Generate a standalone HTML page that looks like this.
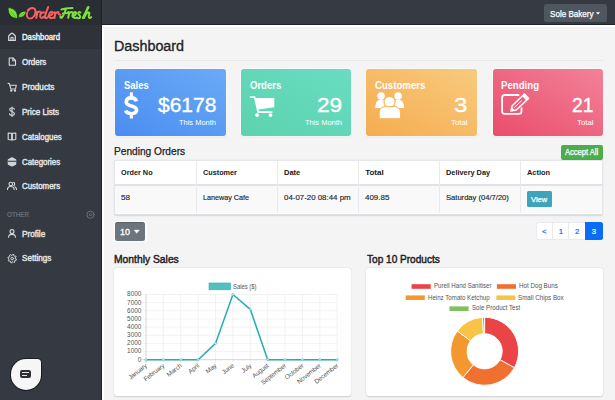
<!DOCTYPE html>
<html><head><meta charset="utf-8">
<style>
*{margin:0;padding:0;box-sizing:border-box}
html,body{width:615px;height:400px;overflow:hidden;background:#f4f4f4;font-family:"Liberation Sans",sans-serif}
.a{position:absolute}
.t{position:absolute;line-height:1;white-space:pre}
</style></head><body>
<!-- topbar -->
<div class="a" style="left:0;top:0;width:615px;height:24px;background:#363a43"></div>
<div class="a" style="left:0;top:23.8px;width:615px;height:1.2px;background:#1f242b"></div>
<div class="a" style="left:0;top:25px;width:615px;height:2px;background:#ffffff"></div>
<!-- sidebar -->
<div class="a" style="left:0;top:0;width:101px;height:400px;background:#353a42"></div>
<div class="a" style="left:0;top:0;width:101px;height:25px;background:#2a2e34"></div>
<div class="a" style="left:0;top:25px;width:101px;height:24px;background:#2f3339"></div>
<div class="a" style="left:101px;top:0;width:1.2px;height:400px;background:#1e2228"></div>
<div class="a" style="left:102.2px;top:25px;width:2px;height:375px;background:#ffffff"></div>
<!-- topbar button -->
<div class="a" style="left:543.8px;top:3.9px;width:63px;height:18.5px;background:#50565e;border-radius:2.5px"></div>
<svg class="a" style="left:594px;top:10px" width="8" height="6" viewBox="0 0 8 6"><path d="M1.8 2.2 L6.2 2.2 L4 4.4 Z" fill="#fff"/></svg>

<!-- logo -->
<svg class="a" style="left:0;top:0" width="101" height="25" viewBox="0 0 101 25" fill="none" stroke-linecap="round" stroke-linejoin="round">
  <g stroke="#1c1a22" stroke-width="2.6">
  <path d="M33 8.2 C29 7.5 26.8 11 26.8 14.5 C26.8 17.5 28.5 18.7 30.5 18.5 C33.5 18.2 35.5 14.5 35.5 11.5 C35.5 9 34 7.8 32 8 C30.5 8.2 29.5 9 29 9.8 M36 12 C37 11.5 37.5 12 37.2 13.2 L36.2 18 M37 14 C37.8 12 39 11.3 40 11.8 M44 12.5 C41.5 11.8 40 14 40.2 16.5 C40.4 18.5 42.5 18.3 44 16.5 M48.2 7 C47 10 45 15 45 17 C45 18.5 46.2 18.5 47.5 17.5 M48.5 16 C51 15.8 53 14 52.5 12.5 C52 11.5 50 11.8 49.2 14 C48.5 16.5 49.5 18.5 52 18 L53.5 17.5 M54 12.5 C55 12 55.5 12.5 55.2 13.5 L54.5 18 M55 14.5 C56 12.2 57.5 11.8 58.5 12.3 C58 14 59.5 15 60.5 14.5"/>
  <path d="M61.5 9.5 C64 8.5 68 8.2 72.5 8 M66 8.8 C65 12 63.5 16 62 17.5 C61 18.2 60 17.5 60.5 16.5 M63 13.5 L67.5 13 M68 12.2 C69 11.8 69.3 12.5 69 13.5 L68.2 17.8 M68.8 14.5 C69.8 12.3 71 11.8 72 12.3 M72.2 16 C74.5 15.8 76.5 14.2 76 12.7 C75.5 11.7 73.5 12 72.8 14 C72 16.5 73 18.3 75.5 18 L77 17.5 M80.5 12.5 C79.5 11.8 78 12.2 78.2 13.5 C78.5 15 80.5 15.5 80.2 17 C80 18.2 78.5 18.5 77.2 17.8 M82.8 18 C84.8 14 87.2 9.5 88.3 7.9 C88.9 7 88.2 6.6 87.6 7.6 C86.4 10 85 14.5 84.1 18 C85.4 14.6 87 12.4 88.4 12.4 C89.7 12.4 89.5 13.6 89 15 C88.6 16.3 88.6 17.8 89.5 18 C90.3 18.2 90.8 17.6 91.2 17.2"/>
  </g>
  <path stroke="#f06262" stroke-width="2.1" d="M33 8.2 C29 7.5 26.8 11 26.8 14.5 C26.8 17.5 28.5 18.7 30.5 18.5 C33.5 18.2 35.5 14.5 35.5 11.5 C35.5 9 34 7.8 32 8 C30.5 8.2 29.5 9 29 9.8 M36 12 C37 11.5 37.5 12 37.2 13.2 L36.2 18 M37 14 C37.8 12 39 11.3 40 11.8 M44 12.5 C41.5 11.8 40 14 40.2 16.5 C40.4 18.5 42.5 18.3 44 16.5 M48.2 7 C47 10 45 15 45 17 C45 18.5 46.2 18.5 47.5 17.5 M48.5 16 C51 15.8 53 14 52.5 12.5 C52 11.5 50 11.8 49.2 14 C48.5 16.5 49.5 18.5 52 18 L53.5 17.5 M54 12.5 C55 12 55.5 12.5 55.2 13.5 L54.5 18 M55 14.5 C56 12.2 57.5 11.8 58.5 12.3 C58 14 59.5 15 60.5 14.5"/>
  <path stroke="#7ee23a" stroke-width="2.1" d="M61.5 9.5 C64 8.5 68 8.2 72.5 8 M66 8.8 C65 12 63.5 16 62 17.5 C61 18.2 60 17.5 60.5 16.5 M63 13.5 L67.5 13 M68 12.2 C69 11.8 69.3 12.5 69 13.5 L68.2 17.8 M68.8 14.5 C69.8 12.3 71 11.8 72 12.3 M72.2 16 C74.5 15.8 76.5 14.2 76 12.7 C75.5 11.7 73.5 12 72.8 14 C72 16.5 73 18.3 75.5 18 L77 17.5 M80.5 12.5 C79.5 11.8 78 12.2 78.2 13.5 C78.5 15 80.5 15.5 80.2 17 C80 18.2 78.5 18.5 77.2 17.8 M82.8 18 C84.8 14 87.2 9.5 88.3 7.9 C88.9 7 88.2 6.6 87.6 7.6 C86.4 10 85 14.5 84.1 18 C85.4 14.6 87 12.4 88.4 12.4 C89.7 12.4 89.5 13.6 89 15 C88.6 16.3 88.6 17.8 89.5 18 C90.3 18.2 90.8 17.6 91.2 17.2"/>
  <path d="M8.2 7.6 C14.5 8.2 18 11.8 17.4 18.6 C11.5 18.5 7.6 14.5 8.2 7.6 Z" fill="#74e632" stroke="#1c1a22" stroke-width="0.6"/>
  <path d="M11 11.5 C13 13.5 14.5 15.5 15.8 18" stroke="#3f8a1f" stroke-width="0.6"/>
  <path d="M26.3 11.2 C22 10.8 18.6 12.8 18.2 17.6 C22.8 17.8 25.5 15.5 26.3 11.2 Z" fill="#74e632" stroke="#1c1a22" stroke-width="0.6"/>
  <path d="M24.5 12.8 C22.5 14 20.5 15.5 19.2 17" stroke="#3f8a1f" stroke-width="0.5"/>
</svg>

<!-- sidebar icons -->
<svg class="a" style="left:0;top:25px" width="101" height="250" viewBox="0 0 101 250" fill="none" stroke="#d8dadd" stroke-width="1.1" stroke-linecap="round" stroke-linejoin="round">
  <!-- home -->
  <path d="M8.7 15.4 L8.7 11.4 Q8.7 10.7 9.3 10.2 L11.3 8.5 Q12 7.9 12.7 8.5 L14.7 10.2 Q15.3 10.7 15.3 11.4 L15.3 15.4 Z" stroke-width="1.25"/><path d="M10.9 15.3 L10.9 13.2 Q10.9 12.4 12 12.4 Q13.1 12.4 13.1 13.2 L13.1 15.3"/>
  <!-- file -->
  <path d="M9.2 33 L13 33 L15.5 35.5 L15.5 40.3 L9.2 40.3 Z"/><path d="M12.8 33 L12.8 35.8 L15.5 35.8"/>
  <!-- cart -->
  <path d="M8 58.3 L9.4 58.6 L10.9 64 L15.5 64 L16.3 60.2 L10 60.2"/><circle cx="11.3" cy="65.6" r="0.65"/><circle cx="15" cy="65.6" r="0.65"/>
  <!-- dollar -->
  <path d="M12 82 L12 91.5"/><path d="M14.3 84.3 C14.3 83.3 13.2 83 12 83 C10.6 83 9.7 83.6 9.7 84.6 C9.7 87 14.4 86.2 14.4 88.7 C14.4 89.8 13.3 90.3 12 90.3 C10.6 90.3 9.6 89.8 9.6 88.8"/>
  <!-- book -->
  <path d="M8.2 108 L11.7 108.2 L11.7 115 L8.2 114.5 Z"/><path d="M15.8 108 L12.3 108.2 L12.3 115 L15.8 114.5 Z"/>
  <!-- categories box -->
  <path d="M8.3 134.7 L12 132.7 L15.7 134.7 L15.7 139.3 L12 141 L8.3 139.3 Z" fill="#cfd1d4"/><path d="M8.3 136.2 L15.7 136.2" stroke="#353a42"/>
  <!-- customers -->
  <circle cx="10.8" cy="159" r="1.8"/><path d="M7.5 164.5 C7.5 162.3 9 161.5 10.8 161.5 C12.6 161.5 14.1 162.3 14.1 164.5"/><path d="M13.5 157.3 C14.8 157.5 15.2 159.8 13.8 160.5"/><path d="M14.8 161.7 C15.8 162 16.5 163 16.5 164.5"/>
  <!-- plus circle (OTHER) -->
  <circle cx="90.5" cy="189.7" r="3.6" stroke="#6c757d" stroke-width="0.9"/><circle cx="90.5" cy="189.7" r="1.1" stroke="#6c757d" stroke-width="0.9"/>
  <!-- profile -->
  <circle cx="12" cy="206.6" r="2"/><path d="M8.6 212.2 C8.6 210 10.2 209.4 12 209.4 C13.8 209.4 15.4 210 15.4 212.2"/>
  <!-- settings -->
  <path d="M15.50 233.60 L16.47 234.11 L16.17 235.25 L15.08 235.21 L14.53 235.93 L14.86 236.98 L13.85 237.57 L13.10 236.78 L12.20 236.90 L11.69 237.87 L10.55 237.57 L10.59 236.48 L9.87 235.93 L8.82 236.26 L8.23 235.25 L9.02 234.50 L8.90 233.60 L7.93 233.09 L8.23 231.95 L9.32 231.99 L9.87 231.27 L9.54 230.22 L10.55 229.63 L11.30 230.42 L12.20 230.30 L12.71 229.33 L13.85 229.63 L13.81 230.72 L14.53 231.27 L15.58 230.94 L16.17 231.95 L15.38 232.70 Z" stroke-width="1"/><circle cx="12.2" cy="233.6" r="1.3" stroke-width="1"/>
</svg>

<!-- chat bubble -->
<div class="a" style="left:9.5px;top:357.6px;width:32.5px;height:33px;background:#1a1c20;border-radius:17px 5px 17px 17px"></div>
<div class="a" style="left:10.5px;top:358.6px;width:30.5px;height:31px;background:#f6f6f6;border-radius:16px 4px 16px 16px"></div>
<div class="a" style="left:20.2px;top:370.2px;width:11px;height:8px;background:#2e3034;border-radius:2px"></div>
<div class="a" style="left:22px;top:372.1px;width:7.4px;height:1.3px;background:#e8e8e8"></div>
<div class="a" style="left:22px;top:375.2px;width:5.2px;height:1px;background:#e8e8e8"></div>

<!-- header hr -->
<div class="a" style="left:114.5px;top:60px;width:488px;height:1px;background:#e9e9e9"></div>

<!-- cards -->
<div class="a" style="left:114.5px;top:68.8px;width:111px;height:67.3px;border-radius:3px;box-shadow:0 0 0 0.7px rgba(255,255,255,0.85),0 0.8px 1.6px rgba(0,0,0,0.12);background:linear-gradient(30deg,#4a8df0 0%,#6aaaf6 100%)"></div>
<div class="a" style="left:241px;top:68.8px;width:110.3px;height:67.3px;border-radius:3px;box-shadow:0 0 0 0.7px rgba(255,255,255,0.85),0 0.8px 1.6px rgba(0,0,0,0.12);background:linear-gradient(30deg,#5cd3ae 0%,#69dcc1 100%)"></div>
<div class="a" style="left:366.4px;top:68.8px;width:110.4px;height:67.3px;border-radius:3px;box-shadow:0 0 0 0.7px rgba(255,255,255,0.85),0 0.8px 1.6px rgba(0,0,0,0.12);background:linear-gradient(30deg,#f5ac4f 0%,#f8ca7e 100%)"></div>
<div class="a" style="left:492.5px;top:68.8px;width:110px;height:67.3px;border-radius:3px;box-shadow:0 0 0 0.7px rgba(255,255,255,0.85),0 0.8px 1.6px rgba(0,0,0,0.12);background:linear-gradient(30deg,#e94d6b 0%,#f28299 100%)"></div>

<!-- card icons -->
<svg class="a" style="left:0;top:0" width="615" height="140" viewBox="0 0 615 140" fill="#ffffff">
  <!-- dollar sign -->
  <rect x="129.8" y="92.3" width="3.1" height="6" rx="0.6"/>
  <rect x="129.8" y="112.6" width="3.1" height="6" rx="0.6"/>
  <path d="M136.4 101.4 C135.8 98.9 133.8 97.9 131.3 97.9 C128.3 97.9 126.3 99.4 126.3 101.9 C126.3 104.6 128.8 105.3 131.4 105.9 C134.2 106.6 136.6 107.5 136.6 110.1 C136.6 112.5 134.4 113.7 131.3 113.7 C128.5 113.7 126.3 112.6 125.7 110.6" fill="none" stroke="#fff" stroke-width="3.6" stroke-linecap="butt"/>
  <!-- cart -->
  <path d="M249.9 96.2 L255.2 96.2 L255.6 97.9 L274.3 97.9 L274.3 107.2 L258.5 109.6 L258.9 111.3 L272.4 111.3 L272.4 113 L257.5 113 L254 98 L249.9 98 Z"/>
  <circle cx="257.1" cy="115.1" r="1.9"/><circle cx="270.5" cy="115.1" r="1.9"/>
  <!-- users -->
  <path d="M375.3 108 C375.3 102.5 377 100.2 379.5 99.9 L383.5 99.9 L385 108 Z"/>
  <path d="M404 108 C404 102.5 402.3 100.2 399.8 99.9 L395.8 99.9 L394.3 108 Z"/>
  <circle cx="381.05" cy="96.1" r="3.8"/><circle cx="398.1" cy="96.1" r="3.8"/>
  <circle cx="389.55" cy="102" r="5.5" stroke="#f6b45a" stroke-width="1"/>
  <path d="M379.2 117.2 Q379.2 118.7 380.7 118.7 L399.1 118.7 Q400.6 118.7 400.6 117.2 L400.6 113.2 C400.6 109.2 398.2 106.6 394.6 106.6 L385.2 106.6 C381.6 106.6 379.2 109.2 379.2 113.2 Z" stroke="#f6b45a" stroke-width="1"/>
  <!-- edit (pen square) -->
  <path d="M519.3 95 L504.8 95 Q502.1 95 502.1 97.7 L502.1 111.2 Q502.1 113.9 504.8 113.9 L518.8 113.9 Q521.5 113.9 521.5 111.2 L521.5 107.6" fill="none" stroke="#fff" stroke-width="1.8"/>
  <path d="M511 111 L512.2 105.7 L524.43 94.03 L528.57 98.37 L516.3 110.07 Z" fill="none" stroke="#fff" stroke-width="1.5" stroke-linejoin="round"/>
  <path d="M522.4 96.2 L524.43 94.03 L528.57 98.37 L526.4 100.4 Z"/>
  <path d="M511 111 L512 107.5 L514.5 110 Z"/>
  <path d="M514.3 107.6 L521.6 100.6" stroke="#fff" stroke-width="1"/>
</svg>

<!-- Accept all -->
<div class="a" style="left:561px;top:144.6px;width:41.8px;height:15.4px;background:#4bad4e;border-radius:2px"></div>

<!-- table -->
<div class="a" style="left:114.3px;top:160.3px;width:488.5px;height:54.5px;background:#fff;border:1px solid #e4e6e9;border-bottom:1.6px solid #dcdfe3;border-radius:2px;box-shadow:0 0.5px 1.5px rgba(0,0,0,0.12)"></div>
<div class="a" style="left:115.3px;top:185.6px;width:486.5px;height:27.6px;background:#f9f9f9"></div>
<div class="a" style="left:115.3px;top:183.8px;width:486.5px;height:1.8px;background:#dfe3e8"></div>
<div class="a" style="left:196px;top:161.3px;width:0.9px;height:52px;background:#e8eaed"></div>
<div class="a" style="left:276.8px;top:161.3px;width:0.9px;height:52px;background:#e8eaed"></div>
<div class="a" style="left:358px;top:161.3px;width:0.9px;height:52px;background:#e8eaed"></div>
<div class="a" style="left:439.2px;top:161.3px;width:0.9px;height:52px;background:#e8eaed"></div>
<div class="a" style="left:520.3px;top:161.3px;width:0.9px;height:52px;background:#e8eaed"></div>
<!-- view btn -->
<div class="a" style="left:527px;top:191.4px;width:24.7px;height:15.6px;background:#3ca4bb;border-radius:1.5px"></div>

<!-- 10 dropdown -->
<div class="a" style="left:113.5px;top:220.7px;width:33px;height:21.6px;background:#fdfdfd;border-radius:3.5px"></div>
<div class="a" style="left:114.6px;top:221.9px;width:30.8px;height:19.2px;background:#6c757d;border-top:0.7px solid #596067;border-radius:2.5px"></div>
<svg class="a" style="left:133px;top:229px" width="8" height="6" viewBox="0 0 8 6"><path d="M1.1 1.1 L6.3 1.1 L3.7 4.3 Z" fill="#fff" stroke="#fff" stroke-width="0.4" stroke-linejoin="round"/></svg>

<!-- pagination -->
<div class="a" style="left:535.5px;top:222px;width:67.1px;height:17.6px;background:#fff;border:0.8px solid #e8ebee;border-radius:2.5px"></div>
<div class="a" style="left:552.3px;top:222.5px;width:0.8px;height:16.6px;background:#e8ebee"></div>
<div class="a" style="left:568px;top:222.5px;width:0.8px;height:16.6px;background:#e8ebee"></div>
<div class="a" style="left:585px;top:222px;width:17.6px;height:17.6px;background:#0b6cf6;border-radius:0 2.5px 2.5px 0"></div>

<!-- chart cards -->
<div class="a" style="left:113.8px;top:268px;width:237.2px;height:127.5px;background:#fff;border-radius:3px;box-shadow:0 0.6px 1.6px rgba(0,0,0,0.16)"></div>
<div class="a" style="left:366px;top:267.8px;width:237.2px;height:128px;background:#fff;border-radius:3px;box-shadow:0 0.6px 1.6px rgba(0,0,0,0.16)"></div>

<svg class="a" style="left:0;top:0" width="615" height="400" viewBox="0 0 615 400"><line x1="141.5" y1="351.55" x2="337.20" y2="351.55" stroke="#e9e9e9" stroke-width="0.6"/>
<line x1="141.5" y1="343.40" x2="337.20" y2="343.40" stroke="#e9e9e9" stroke-width="0.6"/>
<line x1="141.5" y1="335.25" x2="337.20" y2="335.25" stroke="#e9e9e9" stroke-width="0.6"/>
<line x1="141.5" y1="327.10" x2="337.20" y2="327.10" stroke="#e9e9e9" stroke-width="0.6"/>
<line x1="141.5" y1="318.95" x2="337.20" y2="318.95" stroke="#e9e9e9" stroke-width="0.6"/>
<line x1="141.5" y1="310.80" x2="337.20" y2="310.80" stroke="#e9e9e9" stroke-width="0.6"/>
<line x1="141.5" y1="302.65" x2="337.20" y2="302.65" stroke="#e9e9e9" stroke-width="0.6"/>
<line x1="141.5" y1="294.50" x2="337.20" y2="294.50" stroke="#e9e9e9" stroke-width="0.6"/>
<line x1="146.00" y1="294.50" x2="146.00" y2="363.20" stroke="#e9e9e9" stroke-width="0.6"/>
<line x1="163.38" y1="294.50" x2="163.38" y2="363.20" stroke="#e9e9e9" stroke-width="0.6"/>
<line x1="180.76" y1="294.50" x2="180.76" y2="363.20" stroke="#e9e9e9" stroke-width="0.6"/>
<line x1="198.15" y1="294.50" x2="198.15" y2="363.20" stroke="#e9e9e9" stroke-width="0.6"/>
<line x1="215.53" y1="294.50" x2="215.53" y2="363.20" stroke="#e9e9e9" stroke-width="0.6"/>
<line x1="232.91" y1="294.50" x2="232.91" y2="363.20" stroke="#e9e9e9" stroke-width="0.6"/>
<line x1="250.29" y1="294.50" x2="250.29" y2="363.20" stroke="#e9e9e9" stroke-width="0.6"/>
<line x1="267.67" y1="294.50" x2="267.67" y2="363.20" stroke="#e9e9e9" stroke-width="0.6"/>
<line x1="285.05" y1="294.50" x2="285.05" y2="363.20" stroke="#e9e9e9" stroke-width="0.6"/>
<line x1="302.44" y1="294.50" x2="302.44" y2="363.20" stroke="#e9e9e9" stroke-width="0.6"/>
<line x1="319.82" y1="294.50" x2="319.82" y2="363.20" stroke="#e9e9e9" stroke-width="0.6"/>
<line x1="337.20" y1="294.50" x2="337.20" y2="363.20" stroke="#e9e9e9" stroke-width="0.6"/>
<line x1="146.00" y1="294.50" x2="146.00" y2="363.20" stroke="#d0d0d0" stroke-width="0.7"/>
<line x1="141.5" y1="359.70" x2="337.20" y2="359.70" stroke="#cfcfcf" stroke-width="0.9"/>
<polyline fill="none" stroke="#25acac" stroke-width="1.5" stroke-linejoin="round" points="146.00,359.70 163.38,359.70 180.76,359.70 198.15,359.70 215.53,343.40 232.91,294.50 250.29,309.35 267.67,359.70 285.05,359.70 302.44,359.70 319.82,359.70 337.20,359.70"/>
<circle cx="146.00" cy="359.70" r="1.2" fill="#bfe6e6" stroke="#44bbbb" stroke-width="0.4"/>
<circle cx="163.38" cy="359.70" r="1.2" fill="#bfe6e6" stroke="#44bbbb" stroke-width="0.4"/>
<circle cx="180.76" cy="359.70" r="1.2" fill="#bfe6e6" stroke="#44bbbb" stroke-width="0.4"/>
<circle cx="198.15" cy="359.70" r="1.2" fill="#bfe6e6" stroke="#44bbbb" stroke-width="0.4"/>
<circle cx="215.53" cy="343.40" r="1.2" fill="#bfe6e6" stroke="#44bbbb" stroke-width="0.4"/>
<circle cx="232.91" cy="294.50" r="1.2" fill="#bfe6e6" stroke="#44bbbb" stroke-width="0.4"/>
<circle cx="250.29" cy="309.35" r="1.2" fill="#bfe6e6" stroke="#44bbbb" stroke-width="0.4"/>
<circle cx="267.67" cy="359.70" r="1.2" fill="#bfe6e6" stroke="#44bbbb" stroke-width="0.4"/>
<circle cx="285.05" cy="359.70" r="1.2" fill="#bfe6e6" stroke="#44bbbb" stroke-width="0.4"/>
<circle cx="302.44" cy="359.70" r="1.2" fill="#bfe6e6" stroke="#44bbbb" stroke-width="0.4"/>
<circle cx="319.82" cy="359.70" r="1.2" fill="#bfe6e6" stroke="#44bbbb" stroke-width="0.4"/>
<circle cx="337.20" cy="359.70" r="1.2" fill="#bfe6e6" stroke="#44bbbb" stroke-width="0.4"/>
<rect x="209" y="283" width="21.5" height="6.8" fill="#53bfbf" stroke="#2fb0b0" stroke-width="0.6"/>
<text x="147.50" y="366.50" font-family="Liberation Sans" font-size="6.4" fill="#555" text-anchor="end" letter-spacing="-0.15" transform="rotate(-38 147.50 366.50)">January</text>
<text x="164.88" y="366.50" font-family="Liberation Sans" font-size="6.4" fill="#555" text-anchor="end" letter-spacing="-0.15" transform="rotate(-38 164.88 366.50)">February</text>
<text x="182.26" y="366.50" font-family="Liberation Sans" font-size="6.4" fill="#555" text-anchor="end" letter-spacing="-0.15" transform="rotate(-38 182.26 366.50)">March</text>
<text x="199.65" y="366.50" font-family="Liberation Sans" font-size="6.4" fill="#555" text-anchor="end" letter-spacing="-0.15" transform="rotate(-38 199.65 366.50)">April</text>
<text x="217.03" y="366.50" font-family="Liberation Sans" font-size="6.4" fill="#555" text-anchor="end" letter-spacing="-0.15" transform="rotate(-38 217.03 366.50)">May</text>
<text x="234.41" y="366.50" font-family="Liberation Sans" font-size="6.4" fill="#555" text-anchor="end" letter-spacing="-0.15" transform="rotate(-38 234.41 366.50)">June</text>
<text x="251.79" y="366.50" font-family="Liberation Sans" font-size="6.4" fill="#555" text-anchor="end" letter-spacing="-0.15" transform="rotate(-38 251.79 366.50)">July</text>
<text x="269.17" y="366.50" font-family="Liberation Sans" font-size="6.4" fill="#555" text-anchor="end" letter-spacing="-0.15" transform="rotate(-38 269.17 366.50)">August</text>
<text x="286.55" y="366.50" font-family="Liberation Sans" font-size="6.4" fill="#555" text-anchor="end" letter-spacing="-0.15" transform="rotate(-38 286.55 366.50)">September</text>
<text x="303.94" y="366.50" font-family="Liberation Sans" font-size="6.4" fill="#555" text-anchor="end" letter-spacing="-0.15" transform="rotate(-38 303.94 366.50)">October</text>
<text x="321.32" y="366.50" font-family="Liberation Sans" font-size="6.4" fill="#555" text-anchor="end" letter-spacing="-0.15" transform="rotate(-38 321.32 366.50)">November</text>
<text x="338.70" y="366.50" font-family="Liberation Sans" font-size="6.4" fill="#555" text-anchor="end" letter-spacing="-0.15" transform="rotate(-38 338.70 366.50)">December</text>
<path d="M484.60 317.30 A34.0 34.0 0 0 1 514.39 367.68 L500.02 359.78 A17.6 17.6 0 0 0 484.60 333.70 Z" fill="#ea4447" stroke="#fff" stroke-width="0.9"/>
<path d="M514.39 367.68 A34.0 34.0 0 0 1 462.93 377.50 L473.38 364.86 A17.6 17.6 0 0 0 500.02 359.78 Z" fill="#f07030" stroke="#fff" stroke-width="0.9"/>
<path d="M462.93 377.50 A34.0 34.0 0 0 1 457.35 330.97 L470.49 340.78 A17.6 17.6 0 0 0 473.38 364.86 Z" fill="#f3982f" stroke="#fff" stroke-width="0.9"/>
<path d="M457.35 330.97 A34.0 34.0 0 0 1 482.47 317.37 L483.49 333.73 A17.6 17.6 0 0 0 470.49 340.78 Z" fill="#f8c346" stroke="#fff" stroke-width="0.9"/>
<path d="M482.47 317.37 A34.0 34.0 0 0 1 484.60 317.30 L484.60 333.70 A17.6 17.6 0 0 0 483.49 333.73 Z" fill="#7fc05f" stroke="#fff" stroke-width="0.9"/>
<rect x="411.6" y="284.2" width="19.1" height="4.6" fill="#ea4447"/>
<rect x="496.9" y="284.2" width="19.1" height="4.6" fill="#f07030"/>
<rect x="405.7" y="295.4" width="19.1" height="4.6" fill="#f3982f"/>
<rect x="496.3" y="295.4" width="19.1" height="4.6" fill="#f8c346"/>
<rect x="449.5" y="306.4" width="19.1" height="4.6" fill="#7fc05f"/></svg>
<div class="t" style="top:32.89px;font-size:8.4px;font-weight:400;color:#f2f2f2;-webkit-text-stroke:0.4px #f2f2f2;left:22.14px;transform:scaleX(0.9267);transform-origin:0 0;">Dashboard</div>
<div class="t" style="top:58.39px;font-size:8.4px;font-weight:400;color:#e4e6e8;-webkit-text-stroke:0.4px #e4e6e8;left:22.36px;transform:scaleX(0.9505);transform-origin:0 0;">Orders</div>
<div class="t" style="top:83.14px;font-size:8.4px;font-weight:400;color:#e4e6e8;-webkit-text-stroke:0.4px #e4e6e8;left:22.11px;transform:scaleX(0.9815);transform-origin:0 0;">Products</div>
<div class="t" style="top:108.09px;font-size:8.4px;font-weight:400;color:#e4e6e8;-webkit-text-stroke:0.4px #e4e6e8;left:22.12px;transform:scaleX(0.9605);transform-origin:0 0;">Price Lists</div>
<div class="t" style="top:132.99px;font-size:8.4px;font-weight:400;color:#e4e6e8;-webkit-text-stroke:0.4px #e4e6e8;left:22.37px;transform:scaleX(0.9381);transform-origin:0 0;">Catalogues</div>
<div class="t" style="top:157.99px;font-size:8.4px;font-weight:400;color:#e4e6e8;-webkit-text-stroke:0.4px #e4e6e8;left:22.36px;transform:scaleX(0.9416);transform-origin:0 0;">Categories</div>
<div class="t" style="top:182.49px;font-size:8.4px;font-weight:400;color:#e4e6e8;-webkit-text-stroke:0.4px #e4e6e8;left:22.36px;transform:scaleX(0.9416);transform-origin:0 0;">Customers</div>
<div class="t" style="top:229.59px;font-size:8.4px;font-weight:400;color:#e4e6e8;-webkit-text-stroke:0.4px #e4e6e8;left:22.11px;transform:scaleX(0.9783);transform-origin:0 0;">Profile</div>
<div class="t" style="top:254.39px;font-size:8.4px;font-weight:400;color:#e4e6e8;-webkit-text-stroke:0.4px #e4e6e8;left:22.36px;transform:scaleX(0.9700);transform-origin:0 0;">Settings</div>
<div class="t" style="top:212.16px;font-size:6.9px;font-weight:400;color:#6c757d;-webkit-text-stroke:0.2px #6c757d;left:7.37px;transform:scaleX(0.9106);transform-origin:0 0;">OTHER</div>
<div class="t" style="top:9.63px;font-size:8.7px;font-weight:400;color:#ffffff;-webkit-text-stroke:0.25px #fff;left:549.77px;transform:scaleX(0.9305);transform-origin:0 0;">Sole Bakery</div>
<div class="t" style="top:39.45px;font-size:14px;font-weight:400;color:#1d2024;-webkit-text-stroke:0.3px #1d2024;left:113.98px;transform:scaleX(1.0232);transform-origin:0 0;">Dashboard</div>
<div class="t" style="top:80.89px;font-size:10.4px;font-weight:700;color:#ffffff;left:123.54px;transform:scaleX(0.9143);transform-origin:0 0;">Sales</div>
<div class="t" style="top:96.24px;font-size:19.8px;font-weight:400;color:#ffffff;-webkit-text-stroke:0.35px #fff;left:157.90px;transform:scaleX(1.0618);transform-origin:0 0;">$6178</div>
<div class="t" style="top:118.65px;font-size:7.5px;font-weight:400;color:#ffffff;left:179.45px;transform:scaleX(0.9945);transform-origin:0 0;">This Month</div>
<div class="t" style="top:80.89px;font-size:10.4px;font-weight:700;color:#ffffff;left:250.04px;transform:scaleX(0.9173);transform-origin:0 0;">Orders</div>
<div class="t" style="top:96.24px;font-size:19.8px;font-weight:400;color:#ffffff;-webkit-text-stroke:0.35px #fff;left:317.04px;transform:scaleX(1.1415);transform-origin:0 0;">29</div>
<div class="t" style="top:118.65px;font-size:7.5px;font-weight:400;color:#ffffff;left:305.25px;transform:scaleX(0.9945);transform-origin:0 0;">This Month</div>
<div class="t" style="top:80.89px;font-size:10.4px;font-weight:700;color:#ffffff;left:375.44px;transform:scaleX(0.9277);transform-origin:0 0;">Customers</div>
<div class="t" style="top:96.24px;font-size:19.8px;font-weight:400;color:#ffffff;-webkit-text-stroke:0.35px #fff;left:454.29px;transform:scaleX(1.2205);transform-origin:0 0;">3</div>
<div class="t" style="top:118.65px;font-size:7.5px;font-weight:400;color:#ffffff;left:451.34px;transform:scaleX(1.0467);transform-origin:0 0;">Total</div>
<div class="t" style="top:80.89px;font-size:10.4px;font-weight:700;color:#ffffff;left:501.30px;transform:scaleX(0.9291);transform-origin:0 0;">Pending</div>
<div class="t" style="top:96.24px;font-size:19.8px;font-weight:400;color:#ffffff;-webkit-text-stroke:0.35px #fff;left:571.77px;transform:scaleX(0.9756);transform-origin:0 0;">21</div>
<div class="t" style="top:118.65px;font-size:7.5px;font-weight:400;color:#ffffff;left:577.04px;transform:scaleX(1.0467);transform-origin:0 0;">Total</div>
<div class="t" style="top:146.32px;font-size:10.6px;font-weight:400;color:#1d2024;-webkit-text-stroke:0.25px #1d2024;left:114.08px;transform:scaleX(0.9584);transform-origin:0 0;">Pending Orders</div>
<div class="t" style="top:149.26px;font-size:8.2px;font-weight:400;color:#ffffff;-webkit-text-stroke:0.25px #fff;left:565.00px;transform:scaleX(0.9239);transform-origin:0 0;">Accept All</div>
<div class="t" style="top:169.13px;font-size:8.0px;font-weight:700;color:#16191c;left:121.37px;transform:scaleX(0.9109);transform-origin:0 0;">Order No</div>
<div class="t" style="top:169.13px;font-size:8.0px;font-weight:700;color:#16191c;left:202.97px;transform:scaleX(0.9081);transform-origin:0 0;">Customer</div>
<div class="t" style="top:169.13px;font-size:8.0px;font-weight:700;color:#16191c;left:283.53px;transform:scaleX(0.9394);transform-origin:0 0;">Date</div>
<div class="t" style="top:169.13px;font-size:8.0px;font-weight:700;color:#16191c;left:365.20px;transform:scaleX(1.0000);transform-origin:0 0;">Total</div>
<div class="t" style="top:169.13px;font-size:8.0px;font-weight:700;color:#16191c;left:445.94px;transform:scaleX(0.9179);transform-origin:0 0;">Delivery Day</div>
<div class="t" style="top:169.13px;font-size:8.0px;font-weight:700;color:#16191c;left:527.27px;transform:scaleX(0.9237);transform-origin:0 0;">Action</div>
<div class="t" style="top:194.17px;font-size:7.6px;font-weight:400;color:#212529;-webkit-text-stroke:0.15px #212529;left:121.13px;transform:scaleX(1.0750);transform-origin:0 0;">58</div>
<div class="t" style="top:194.17px;font-size:7.6px;font-weight:400;color:#212529;-webkit-text-stroke:0.15px #212529;left:202.53px;transform:scaleX(0.9487);transform-origin:0 0;">Laneway Cafe</div>
<div class="t" style="top:194.17px;font-size:7.6px;font-weight:400;color:#212529;-webkit-text-stroke:0.15px #212529;left:283.54px;transform:scaleX(1.0378);transform-origin:0 0;">04-07-20 08:44 pm</div>
<div class="t" style="top:194.17px;font-size:7.6px;font-weight:400;color:#212529;-webkit-text-stroke:0.15px #212529;left:365.00px;transform:scaleX(1.0478);transform-origin:0 0;">409.85</div>
<div class="t" style="top:194.17px;font-size:7.6px;font-weight:400;color:#212529;-webkit-text-stroke:0.15px #212529;left:445.95px;transform:scaleX(0.9992);transform-origin:0 0;">Saturday (04/7/20)</div>
<div class="t" style="top:196.00px;font-size:7.8px;font-weight:400;color:#ffffff;-webkit-text-stroke:0.25px #fff;left:531.25px;transform:scaleX(0.9706);transform-origin:0 0;">View</div>
<div class="t" style="top:228.00px;font-size:8.5px;font-weight:400;color:#ffffff;-webkit-text-stroke:0.3px #fff;left:120.27px;transform:scaleX(1.0514);transform-origin:0 0;">10</div>
<div class="t" style="top:227.60px;font-size:7.8px;font-weight:400;color:#0d6efd;-webkit-text-stroke:0.2px #0d6efd;left:542.05px;transform:scaleX(1.0000);transform-origin:0 0;">&lt;</div>
<div class="t" style="top:227.60px;font-size:7.8px;font-weight:400;color:#0d6efd;-webkit-text-stroke:0.2px #0d6efd;left:558.70px;transform:scaleX(1.0000);transform-origin:0 0;">1</div>
<div class="t" style="top:227.60px;font-size:7.8px;font-weight:400;color:#0d6efd;-webkit-text-stroke:0.2px #0d6efd;left:574.95px;transform:scaleX(1.0000);transform-origin:0 0;">2</div>
<div class="t" style="top:227.60px;font-size:7.8px;font-weight:400;color:#ffffff;-webkit-text-stroke:0.2px #ffffff;left:591.75px;transform:scaleX(1.0000);transform-origin:0 0;">3</div>
<div class="t" style="top:253.86px;font-size:10.8px;font-weight:400;color:#1d2024;-webkit-text-stroke:0.45px #1d2024;left:114.03px;transform:scaleX(0.9552);transform-origin:0 0;">Monthly Sales</div>
<div class="t" style="top:254.06px;font-size:10.8px;font-weight:400;color:#1d2024;-webkit-text-stroke:0.45px #1d2024;left:366.60px;transform:scaleX(0.9325);transform-origin:0 0;">Top 10 Products</div>
<div class="t" style="top:283.80px;font-size:6.5px;font-weight:400;color:#555555;left:232.67px;transform:scaleX(0.9059);transform-origin:0 0;">Sales ($)</div>
<div class="t" style="top:356.58px;font-size:6.4px;font-weight:400;color:#555555;left:137.85px;transform:scaleX(1.0000);transform-origin:0 0;">0</div>
<div class="t" style="top:348.43px;font-size:6.4px;font-weight:400;color:#555555;left:127.10px;transform:scaleX(1.0000);transform-origin:0 0;">1000</div>
<div class="t" style="top:340.28px;font-size:6.4px;font-weight:400;color:#555555;left:127.10px;transform:scaleX(1.0000);transform-origin:0 0;">2000</div>
<div class="t" style="top:332.13px;font-size:6.4px;font-weight:400;color:#555555;left:127.10px;transform:scaleX(1.0000);transform-origin:0 0;">3000</div>
<div class="t" style="top:323.98px;font-size:6.4px;font-weight:400;color:#555555;left:127.10px;transform:scaleX(1.0000);transform-origin:0 0;">4000</div>
<div class="t" style="top:315.83px;font-size:6.4px;font-weight:400;color:#555555;left:127.10px;transform:scaleX(1.0000);transform-origin:0 0;">5000</div>
<div class="t" style="top:307.68px;font-size:6.4px;font-weight:400;color:#555555;left:127.10px;transform:scaleX(1.0000);transform-origin:0 0;">6000</div>
<div class="t" style="top:299.53px;font-size:6.4px;font-weight:400;color:#555555;left:127.10px;transform:scaleX(1.0000);transform-origin:0 0;">7000</div>
<div class="t" style="top:291.38px;font-size:6.4px;font-weight:400;color:#555555;left:127.10px;transform:scaleX(1.0000);transform-origin:0 0;">8000</div>
<div class="t" style="top:283.30px;font-size:6.5px;font-weight:400;color:#555555;left:434.23px;transform:scaleX(0.9405);transform-origin:0 0;">Purell Hand Sanitiser</div>
<div class="t" style="top:283.30px;font-size:6.5px;font-weight:400;color:#555555;left:519.22px;transform:scaleX(0.9585);transform-origin:0 0;">Hot Dog Buns</div>
<div class="t" style="top:294.50px;font-size:6.5px;font-weight:400;color:#555555;left:428.13px;transform:scaleX(0.9442);transform-origin:0 0;">Heinz Tomato Ketchup</div>
<div class="t" style="top:294.50px;font-size:6.5px;font-weight:400;color:#555555;left:518.46px;transform:scaleX(0.9566);transform-origin:0 0;">Small Chips Box</div>
<div class="t" style="top:305.20px;font-size:6.5px;font-weight:400;color:#555555;left:471.76px;transform:scaleX(0.9505);transform-origin:0 0;">Sole Product Test</div>
</body></html>
